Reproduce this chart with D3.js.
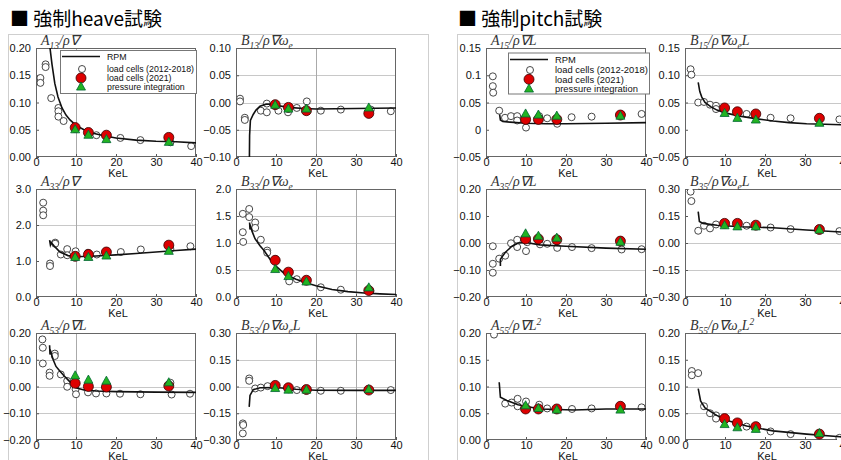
<!DOCTYPE html>
<html><head><meta charset="utf-8">
<script src="https://cdn.jsdelivr.net/npm/d3@7"></script>
<style>body{margin:0;background:#fff}svg{display:block}</style>
</head><body><svg id="c" width="841" height="460"></svg>
<script>
// ---------------- DATA ----------------
const xTicks = [0, 10, 20, 30, 40];
const kelLeft = [9.8, 13.1, 17.6, 33.2];
const kelRight = [9.9, 13.1, 17.7, 33.6];
const legendLabels = ["RPM", "load cells (2012-2018)", "load cells (2021)", "pressure integration"];

// A13
const A13_old = [[1.1,0.145],[1.1,0.136],[2.4,0.170],[2.4,0.165],[3.8,0.108],[5.6,0.090],[5.6,0.084],[5.6,0.074],[6.9,0.066],[13.0,0.046],[15.1,0.040],[21.1,0.035],[26.1,0.031],[33.6,0.027],[38.8,0.020]];
const A13_rpm = [[3.3,0.26],[3.5,0.20],[4.0,0.17],[4.7,0.135],[5.5,0.11],[6.5,0.09],[7.5,0.077],[8.5,0.068],[10,0.058],[12,0.050],[14,0.044],[17,0.039],[20,0.035],[25,0.031],[30,0.029],[35,0.028],[40,0.026]];
const A13_2021 = [0.054,0.045,0.040,0.036];
const A13_press = [0.050,0.040,0.032,0.027];
// B13
const B13_old = [[1.0,0.007],[1.0,0.002],[2.2,-0.028],[2.2,-0.032],[6.2,-0.015],[7.7,-0.002],[7.7,-0.018],[10.6,-0.015],[13.0,-0.018],[15.2,-0.010],[17.7,0.002],[21.2,-0.015],[26.2,-0.013],[33.7,-0.013],[38.7,-0.016]];
const B13_rpm = [[3.3,-0.15],[3.4,-0.06],[3.6,-0.033],[4.3,-0.022],[5,-0.014],[6,-0.007],[7.5,-0.003],[9,-0.003],[10,-0.005],[13,-0.009],[17,-0.011],[20,-0.012],[30,-0.011],[40,-0.010]];
const B13_2021 = [-0.004,-0.009,-0.015,-0.020];
const B13_press = [-0.005,-0.012,-0.012,-0.010];
// A33
const A33_old = [[1.8,2.62],[1.8,2.40],[1.8,2.27],[3.5,0.93],[3.5,0.86],[4.8,1.51],[4.8,1.48],[6.2,1.18],[7.8,1.33],[7.8,1.16],[9.9,1.27],[13.0,1.23],[15.2,1.18],[17.6,1.24],[21.2,1.25],[26.2,1.32],[33.6,1.33],[38.6,1.41]];
const A33_rpm = [[3.4,1.58],[3.6,1.45],[3.8,1.51],[4.5,1.42],[6,1.25],[8,1.15],[10,1.12],[15,1.14],[20,1.17],[25,1.21],[30,1.25],[35,1.29],[40,1.33]];
const A33_2021 = [1.13,1.18,1.25,1.44];
const A33_press = [1.10,1.10,1.14,1.27];
// B33
const B33_old = [[1.7,1.54],[1.7,1.20],[1.8,1.02],[3.3,1.63],[3.3,1.48],[4.8,1.38],[4.8,1.28],[6.2,1.06],[7.8,0.86],[7.8,0.82],[9.9,0.70],[13.3,0.29],[15.2,0.33],[17.6,0.30],[21.2,0.18],[26.2,0.135],[33.6,0.11]];
const B33_rpm = [[3.4,1.38],[3.5,1.25],[3.7,1.30],[4.0,1.22],[4.75,1.08],[6,0.95],[7,0.86],[8.5,0.70],[10,0.57],[12,0.44],[13.5,0.38],[15,0.33],[17.7,0.26],[20,0.21],[24,0.14],[28,0.10],[32,0.075],[36,0.058],[40,0.047]];
const B33_2021 = [0.68,0.46,0.31,0.12];
const B33_press = [0.51,0.38,0.28,0.17];
// A53
const A53_old = [[1.6,0.176],[1.7,0.145],[1.7,0.086],[3.4,0.052],[3.4,0.040],[4.7,0.123],[4.7,0.114],[6.2,0.045],[7.8,0.021],[7.8,-0.001],[9.9,-0.010],[10.0,-0.029],[13.0,-0.022],[15.0,-0.026],[17.6,-0.026],[21.0,-0.027],[26.1,-0.029],[33.6,0.014],[33.9,-0.030],[38.5,-0.027]];
const A53_rpm = [[3.4,0.154],[3.5,0.12],[3.7,0.13],[4.3,0.10],[5,0.075],[6,0.057],[7,0.040],[8,0.025],[9,0.010],[10,-0.005],[12,-0.013],[15,-0.017],[20,-0.019],[30,-0.021],[40,-0.022]];
const A53_2021 = [0.012,0.000,-0.002,0.002];
const A53_press = [0.040,0.024,0.020,0.014];
// B53
const B53_old = [[1.7,-0.207],[1.8,-0.216],[1.7,-0.263],[3.3,0.045],[3.3,0.032],[4.8,-0.011],[6.2,-0.006],[7.9,0.002],[13.3,-0.015],[15.2,-0.020],[21.2,-0.024],[26.2,-0.024],[38.7,-0.020]];
const B53_rpm = [[3.3,-0.114],[3.5,-0.05],[4.3,-0.018],[6,-0.007],[10,-0.006],[15,-0.015],[20,-0.021],[30,-0.022],[40,-0.022]];
const B53_2021 = [0.006,-0.007,-0.017,-0.020];
const B53_press = [-0.011,-0.020,-0.020,-0.017];
// A15
const A15_old = [[1.7,0.098],[1.7,0.080],[1.8,0.068],[3.3,0.035],[4.75,0.022],[6.25,0.025],[7.8,0.025],[7.8,0.017],[10.0,0.004],[13.3,0.025],[15.3,0.021],[17.8,0.011],[21.4,0.023],[26.4,0.024],[33.9,0.028],[38.9,0.029]];
const A15_rpm = [[3.4,0.028],[3.6,0.018],[4.2,0.015],[6,0.014],[10,0.012],[15,0.011],[20,0.011],[30,0.012],[40,0.013]];
const A15_2021 = [0.019,0.019,0.019,0.027];
const A15_press = [0.029,0.027,0.025,0.025];
// B15
const B15_old = [[1.4,0.111],[1.6,0.101],[3.3,0.050],[4.75,0.051],[6.25,0.046],[7.75,0.044],[7.75,0.038],[15.4,0.029],[21.4,0.022],[26.4,0.021],[38.6,0.019]];
const B15_rpm = [[3.3,0.087],[3.7,0.070],[4.2,0.060],[5,0.050],[6.5,0.042],[8,0.036],[10,0.031],[13.75,0.025],[18,0.020],[22,0.016],[26,0.013],[30.4,0.011],[35,0.010],[40,0.009]];
const B15_2021 = [0.040,0.033,0.029,0.021];
const B15_press = [0.030,0.021,0.018,0.012];
// A35
const A35_old = [[1.7,-0.012],[1.7,-0.077],[1.7,-0.110],[3.3,-0.058],[4.8,-0.047],[6.25,-0.001],[7.8,0.012],[7.8,-0.015],[10.0,-0.030],[10.3,0.003],[13.5,-0.005],[15.3,-0.003],[17.8,-0.018],[21.5,-0.015],[26.4,-0.019],[33.9,-0.024],[38.9,-0.023]];
const A35_rpm = [[3.6,-0.085],[3.6,-0.060],[4.8,-0.035],[6.4,-0.013],[8,0.000],[10,0.002],[13.5,-0.007],[20,-0.012],[30,-0.019],[40,-0.023]];
const A35_2021 = [0.015,0.015,0.012,0.007];
const A35_press = [0.034,0.025,0.018,0.003];
// B35
const B35_old = [[1.4,0.285],[1.6,0.233],[3.3,0.068],[4.75,0.096],[6.25,0.081],[7.75,0.103],[15.4,0.096],[21.4,0.086],[26.4,0.077],[38.6,0.066]];
const B35_rpm = [[3.3,0.174],[3.6,0.120],[4.5,0.109],[8,0.099],[13.75,0.090],[22,0.085],[30.4,0.072],[40,0.060]];
const B35_2021 = [0.109,0.109,0.099,0.075];
const B35_press = [0.096,0.090,0.090,0.072];
// A55
const A55_old = [[2.0,0.197],[4.8,0.068],[6.4,0.070],[7.9,0.077],[7.9,0.063],[10.0,0.072],[13.3,0.066],[15.3,0.059],[21.5,0.058],[26.4,0.059],[38.9,0.061]];
const A55_rpm = [[3.3,0.108],[3.6,0.080],[5.2,0.074],[8,0.066],[13.5,0.058],[22,0.056],[30,0.058],[40,0.058]];
const A55_2021 = [0.058,0.058,0.058,0.063];
const A55_press = [0.064,0.059,0.056,0.056];
// B55
const B55_old = [[1.7,0.129],[1.7,0.121],[3.3,0.125],[4.75,0.063],[6.25,0.050],[7.75,0.046],[7.75,0.040],[15.4,0.025],[21.4,0.016],[26.4,0.011],[38.6,0.004]];
const B55_rpm = [[3.3,0.096],[3.9,0.073],[5,0.060],[7.9,0.046],[11.25,0.035],[15.4,0.026],[22,0.017],[30.4,0.011],[38.75,0.006],[40,0.0055]];
const B55_2021 = [0.040,0.032,0.025,0.011];
const B55_press = [0.029,0.023,0.020,0.012];

// ---------------- LAYOUT ----------------
const colX = [36, 236, 486, 685];
const rowY = [[48,157],[189,297],[333,440]];
const PW = 160;
const f2 = d3.format(".2f"), f1 = d3.format(".1f");
const fA15 = d => d===0 ? "0" : (Math.abs(d-0.1)<1e-9 ? "0.1" : d3.format(".2~f")(d));

const panels = [
 {c:0,r:0,t:[["A","n"],["13","sub"],["/ρ∇","n"]],dom:[0,0.2],yt:[0,0.05,0.1,0.15,0.2],fmt:f2,gx:[10],gy:[],old:A13_old,rpm:A13_rpm,n21:A13_2021,pr:A13_press,kel:kelLeft,leg:"L"},
 {c:1,r:0,t:[["B","n"],["13","sub"],["/ρ∇ω","n"],["e","sub"]],dom:[-0.1,0.1],yt:[-0.1,-0.05,0,0.05,0.1],fmt:f2,gx:[20],gy:[0.05,0,-0.05],old:B13_old,rpm:B13_rpm,n21:B13_2021,pr:B13_press,kel:kelLeft},
 {c:0,r:1,t:[["A","n"],["33","sub"],["/ρ∇","n"]],dom:[0,3],yt:[0,1,2,3],fmt:f1,gx:[10],gy:[2],old:A33_old,rpm:A33_rpm,n21:A33_2021,pr:A33_press,kel:kelLeft},
 {c:1,r:1,t:[["B","n"],["33","sub"],["/ρ∇ω","n"],["e","sub"]],dom:[0,2],yt:[0,0.5,1,1.5,2],fmt:f1,gx:[20,30],gy:[0.5,1,1.5],old:B33_old,rpm:B33_rpm,n21:B33_2021,pr:B33_press,kel:kelLeft},
 {c:0,r:2,t:[["A","n"],["53","sub"],["/ρ∇L","n"]],dom:[-0.2,0.2],yt:[-0.2,-0.1,0,0.1,0.2],fmt:f2,gx:[10],gy:[0.1,0,-0.1],old:A53_old,rpm:A53_rpm,n21:A53_2021,pr:A53_press,kel:kelLeft},
 {c:1,r:2,t:[["B","n"],["53","sub"],["/ρ∇ω","n"],["e","sub"],["L","n"]],dom:[-0.3,0.3],yt:[-0.3,-0.15,0,0.15,0.3],fmt:f2,gx:[20,30],gy:[0.15,0,-0.15],old:B53_old,rpm:B53_rpm,n21:B53_2021,pr:B53_press,kel:kelLeft},
 {c:2,r:0,t:[["A","n"],["15","sub"],["/ρ∇L","n"]],dom:[-0.05,0.15],yt:[-0.05,0,0.05,0.1,0.15],fmt:fA15,gx:[],gy:[0.05],old:A15_old,rpm:A15_rpm,n21:A15_2021,pr:A15_press,kel:kelRight,leg:"R"},
 {c:3,r:0,t:[["B","n"],["15","sub"],["/ρ∇ω","n"],["e","sub"],["L","n"]],dom:[-0.05,0.15],yt:[-0.05,0,0.05,0.1,0.15],fmt:f2,gx:[],gy:[0.05,0.1],old:B15_old,rpm:B15_rpm,n21:B15_2021,pr:B15_press,kel:kelRight},
 {c:2,r:1,t:[["A","n"],["35","sub"],["/ρ∇L","n"]],dom:[-0.2,0.2],yt:[-0.2,-0.1,0,0.1,0.2],fmt:f2,gx:[],gy:[0,-0.1],old:A35_old,rpm:A35_rpm,n21:A35_2021,pr:A35_press,kel:kelRight},
 {c:3,r:1,t:[["B","n"],["35","sub"],["/ρ∇ω","n"],["e","sub"],["L","n"]],dom:[-0.3,0.3],yt:[-0.3,-0.15,0,0.15,0.3],fmt:f2,gx:[],gy:[0,-0.15],old:B35_old,rpm:B35_rpm,n21:B35_2021,pr:B35_press,kel:kelRight},
 {c:2,r:2,t:[["A","n"],["55","sub"],["/ρ∇L","n"],["2","sup"]],dom:[0,0.2],yt:[0,0.05,0.1,0.15,0.2],fmt:f2,gx:[],gy:[0.1],old:A55_old,rpm:A55_rpm,n21:A55_2021,pr:A55_press,kel:kelRight},
 {c:3,r:2,t:[["B","n"],["55","sub"],["/ρ∇ω","n"],["e","sub"],["L","n"],["2","sup"]],dom:[0,0.2],yt:[0,0.05,0.1,0.15,0.2],fmt:f2,gx:[],gy:[0.05,0.1],old:B55_old,rpm:B55_rpm,n21:B55_2021,pr:B55_press,kel:kelRight}
];

// ---------------- DRAW ----------------
const svg = d3.select("#c");
const SANS = "'Liberation Sans', Arial, Helvetica, sans-serif";
const SERIF = "'Liberation Serif', 'Times New Roman', serif";
const RED = "#dd0000", GREEN = "#22b322";

// group frames
svg.append("rect").attr("x",8.5).attr("y",34.5).attr("width",420).attr("height",440).attr("fill","none").attr("stroke","#cfcfcf");
svg.append("rect").attr("x",457.5).attr("y",34.5).attr("width",400).attr("height",440).attr("fill","none").attr("stroke","#cfcfcf");

// group titles
[["■ 強制heave試験",10],["■ 強制pitch試験",458]].forEach(([s,x])=>{
  svg.append("text").attr("x",x).attr("y",26).attr("font-family","'Noto Sans CJK JP', 'Noto Sans', sans-serif")
    .attr("font-size",19).attr("fill","#000").text(s);
});

function tri(cx, cy, s){
  const h = s*0.9;
  return `M${cx},${cy-h*0.62}L${cx+s/2},${cy+h*0.38}L${cx-s/2},${cy+h*0.38}Z`;
}

panels.forEach((p,i)=>{
  const x0 = colX[p.c], y0 = rowY[p.r][0], y1 = rowY[p.r][1];
  const x = d3.scaleLinear().domain([0,40]).range([x0, x0+PW]);
  const y = d3.scaleLinear().domain(p.dom).range([y1, y0]);
  const g = svg.append("g");
  const clipId = "clip"+i;
  svg.append("clipPath").attr("id",clipId).append("rect")
    .attr("x",x0).attr("y",y0).attr("width",PW).attr("height",y1-y0);

  // grid
  g.selectAll(".gy").data(p.gy).enter().append("line")
    .attr("x1",x0).attr("x2",x0+PW).attr("y1",d=>Math.round(y(d))+0.5).attr("y2",d=>Math.round(y(d))+0.5)
    .attr("stroke","#c8c8c8").attr("stroke-width",1);
  g.selectAll(".gx").data(p.gx).enter().append("line")
    .attr("y1",y0).attr("y2",y1).attr("x1",d=>Math.round(x(d))+0.5).attr("x2",d=>Math.round(x(d))+0.5)
    .attr("stroke","#aaaaaa").attr("stroke-width",1);

  // axes
  const ax = d3.axisBottom(x).tickValues(xTicks).tickSize(-3).tickPadding(3).tickFormat(d3.format("d"));
  const ay = d3.axisLeft(y).tickValues(p.yt).tickSize(-3).tickPadding(5).tickFormat(p.fmt);
  const gxA = g.append("g").attr("transform",`translate(0,${y1})`).call(ax);
  const gyA = g.append("g").attr("transform",`translate(${x0},0)`).call(ay);
  [gxA,gyA].forEach(a=>{
    a.select(".domain").remove();
    a.selectAll(".tick line").attr("stroke","#555");
    a.selectAll("text").attr("font-family",SANS).attr("font-size",11).attr("fill","#111");
  });
  gxA.selectAll("text").attr("dy","0.55em");

  // frame
  g.append("rect").attr("x",x0+0.5).attr("y",y0+0.5).attr("width",PW-1).attr("height",y1-y0-1)
    .attr("fill","none").attr("stroke","#666").attr("stroke-width",1);

  // x label
  g.append("text").attr("x",x0+PW/2+2).attr("y",y1+19.5).attr("text-anchor","middle")
    .attr("font-family",SANS).attr("font-size",11).attr("fill","#111").text("KeL");

  // title
  const t = g.append("text").attr("x",x0+5).attr("y",y0-3).attr("font-family",SERIF)
    .attr("font-style","italic").attr("font-size",14).attr("fill","#333");
  let sh = 0;
  p.t.forEach(([s,k])=>{
    const target = k==="sub"?3.5:(k==="sup"?-5:0);
    const ts = t.append("tspan").attr("dy",target-sh).text(s);
    if(k!=="n") ts.attr("font-size",9.5);
    sh = target;
  });

  const pg = g.append("g").attr("clip-path",`url(#${clipId})`);
  // old circles
  pg.selectAll(".o").data(p.old).enter().append("circle")
    .attr("cx",d=>x(d[0])).attr("cy",d=>y(d[1])).attr("r",3.5)
    .attr("fill","#fff").attr("stroke","#333").attr("stroke-width",0.9);
  // RPM line
  pg.append("path").datum(p.rpm).attr("fill","none").attr("stroke","#111").attr("stroke-width",1.6)
    .attr("d",d3.line().x(d=>x(d[0])).y(d=>y(d[1])));
  // 2021
  pg.selectAll(".r").data(p.n21).enter().append("circle")
    .attr("cx",(d,j)=>x(p.kel[j])).attr("cy",d=>y(d)).attr("r",5)
    .attr("fill",RED).attr("stroke","#3a0000").attr("stroke-width",0.8);
  // pressure
  pg.selectAll(".t").data(p.pr).enter().append("path")
    .attr("d",(d,j)=>tri(x(p.kel[j]), y(d), 9))
    .attr("fill",GREEN).attr("stroke","#063").attr("stroke-width",0.8);

  // legend
  if(p.leg){
    const L = p.leg==="L"
      ? {bx:60,by:50,bw:136,bh:43,lx1:62,lx2:100,mx:81,tx:107,ys:[56.5,69,78,87],fs:8.8}
      : {bx:508,by:52.5,bw:141,bh:41,lx1:510,lx2:548,mx:529,tx:555,ys:[59.5,70,79.3,89],fs:9.4};
    const lg = svg.append("g");
    lg.append("rect").attr("x",L.bx+0.5).attr("y",L.by+0.5).attr("width",L.bw).attr("height",L.bh)
      .attr("fill","#fff").attr("stroke","#777");
    lg.append("line").attr("x1",L.lx1).attr("x2",L.lx2).attr("y1",L.ys[0]).attr("y2",L.ys[0]).attr("stroke","#111").attr("stroke-width",1.6);
    lg.append("circle").attr("cx",L.mx+1).attr("cy",L.ys[1]).attr("r",3.5).attr("fill","#fff").attr("stroke","#333").attr("stroke-width",0.9);
    lg.append("circle").attr("cx",L.mx).attr("cy",L.ys[2]).attr("r",5).attr("fill",RED).attr("stroke","#3a0000").attr("stroke-width",0.8);
    lg.append("path").attr("d",tri(L.mx,L.ys[3],9)).attr("fill",GREEN).attr("stroke","#063").attr("stroke-width",0.8);
    legendLabels.forEach((s,j)=>{
      lg.append("text").attr("x",L.tx).attr("y",L.ys[j]).attr("dy","0.35em")
        .attr("font-family",SANS).attr("font-size",L.fs).attr("fill","#111").text(s);
    });
  }
});
</script>
</body></html>
